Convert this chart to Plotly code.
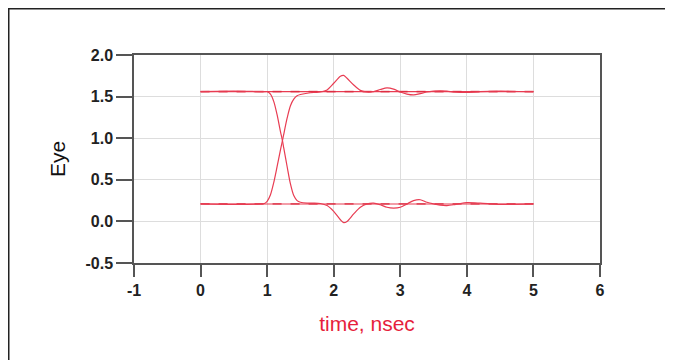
import plotly.graph_objects as go

# ---- data ----
t_window = [0.0, 5.0]
high_level = [1.56, 1.56]
low_level = [0.21, 0.21]

t_edge = [0.0, 0.5, 0.9, 0.96, 1.0, 1.05, 1.1, 1.15, 1.2, 1.23, 1.25, 1.3, 1.35, 1.4,
          1.45, 1.5, 1.6, 1.7, 1.8, 1.9, 2.0, 2.1, 2.15, 2.2, 2.3, 2.4, 2.5, 2.6,
          2.7, 2.8, 2.9, 3.0, 3.1, 3.2, 3.3, 3.4, 3.5, 3.6, 3.7, 3.8, 3.9, 4.0,
          4.2, 4.5, 5.0]

rise_y = [0.21, 0.205, 0.21, 0.215, 0.24, 0.32, 0.47, 0.66, 0.86, 0.97, 1.05, 1.24, 1.39, 1.47,
          1.51, 1.525, 1.54, 1.55, 1.555, 1.58, 1.66, 1.745, 1.755, 1.72, 1.64, 1.575, 1.555, 1.56,
          1.585, 1.605, 1.59, 1.555, 1.53, 1.52, 1.535, 1.555, 1.565, 1.57, 1.565, 1.555, 1.55, 1.55,
          1.56, 1.565, 1.56]

fall_y = [1.56, 1.565, 1.56, 1.56, 1.56, 1.53, 1.44, 1.28, 1.08, 0.97, 0.88, 0.66, 0.45, 0.31,
          0.25, 0.23, 0.22, 0.22, 0.215, 0.19, 0.12, 0.02, -0.015, 0.0, 0.09, 0.17, 0.21, 0.22,
          0.2, 0.17, 0.16, 0.17, 0.21, 0.25, 0.26, 0.23, 0.21, 0.195, 0.19, 0.2, 0.215, 0.225,
          0.22, 0.205, 0.21]

x_ticks = [-1, 0, 1, 2, 3, 4, 5, 6]
x_tick_text = ["-1", "0", "1", "2", "3", "4", "5", "6"]
y_ticks = [-0.5, 0.0, 0.5, 1.0, 1.5, 2.0]
y_tick_text = ["-0.5", "0.0", "0.5", "1.0", "1.5", "2.0"]

RED = "rgb(232,60,82)"
FONT = "Liberation Sans, Arial"

fig = go.Figure()
for lv in (high_level, low_level):
    fig.add_trace(go.Scatter(x=t_window, y=lv, mode="lines",
                             line=dict(color=RED, width=1.1), hoverinfo="skip"))
    fig.add_trace(go.Scatter(x=t_window, y=lv, mode="lines",
                             line=dict(color="rgb(220,40,60)", width=1.8, dash="dash"),
                             opacity=0.7, hoverinfo="skip"))
for ys in (rise_y, fall_y):
    fig.add_trace(go.Scatter(x=t_edge, y=ys, mode="lines",
                             line=dict(color=RED, width=1.2, shape="spline", smoothing=0.8),
                             hoverinfo="skip"))

W, H = 673, 360
L, R, T, B = 126, 81, 47, 105
pw, ph = W - L - R, H - T - B

def px(x):
    return (x - L) / pw

def py(y):
    return (H - B - y) / ph

# outer frame of the picture
fig.add_shape(type="rect", xref="paper", yref="paper",
              x0=px(0.75), x1=px(662), y0=py(362), y1=py(0.75),
              line=dict(color="#222", width=1.5), layer="below")

axis_common = dict(showline=True, linecolor="#555", linewidth=1.5, mirror=True,
                   ticks="outside", tickcolor="#555", tickwidth=1.5,
                   showgrid=True, gridcolor="#dddddd", gridwidth=1, zeroline=False,
                   tickfont=dict(family=FONT, size=16, color="#222", weight="bold"))

fig.update_xaxes(range=[-1, 6], tickvals=x_ticks, ticktext=x_tick_text, ticklen=12,
                 title=dict(text="time, nsec", standoff=18,
                            font=dict(family=FONT, size=21, color="rgb(230,30,60)")),
                 **axis_common)
fig.update_yaxes(range=[-0.5, 2.0], tickvals=y_ticks, ticktext=y_tick_text, ticklen=16,
                 title=dict(text="Eye", standoff=14,
                            font=dict(family=FONT, size=21, color="#111")),
                 **axis_common)

fig.update_layout(width=W, height=H, margin=dict(l=L, r=R, t=T, b=B),
                  paper_bgcolor="white", plot_bgcolor="white", showlegend=False)

fig.write_html("out.html")
